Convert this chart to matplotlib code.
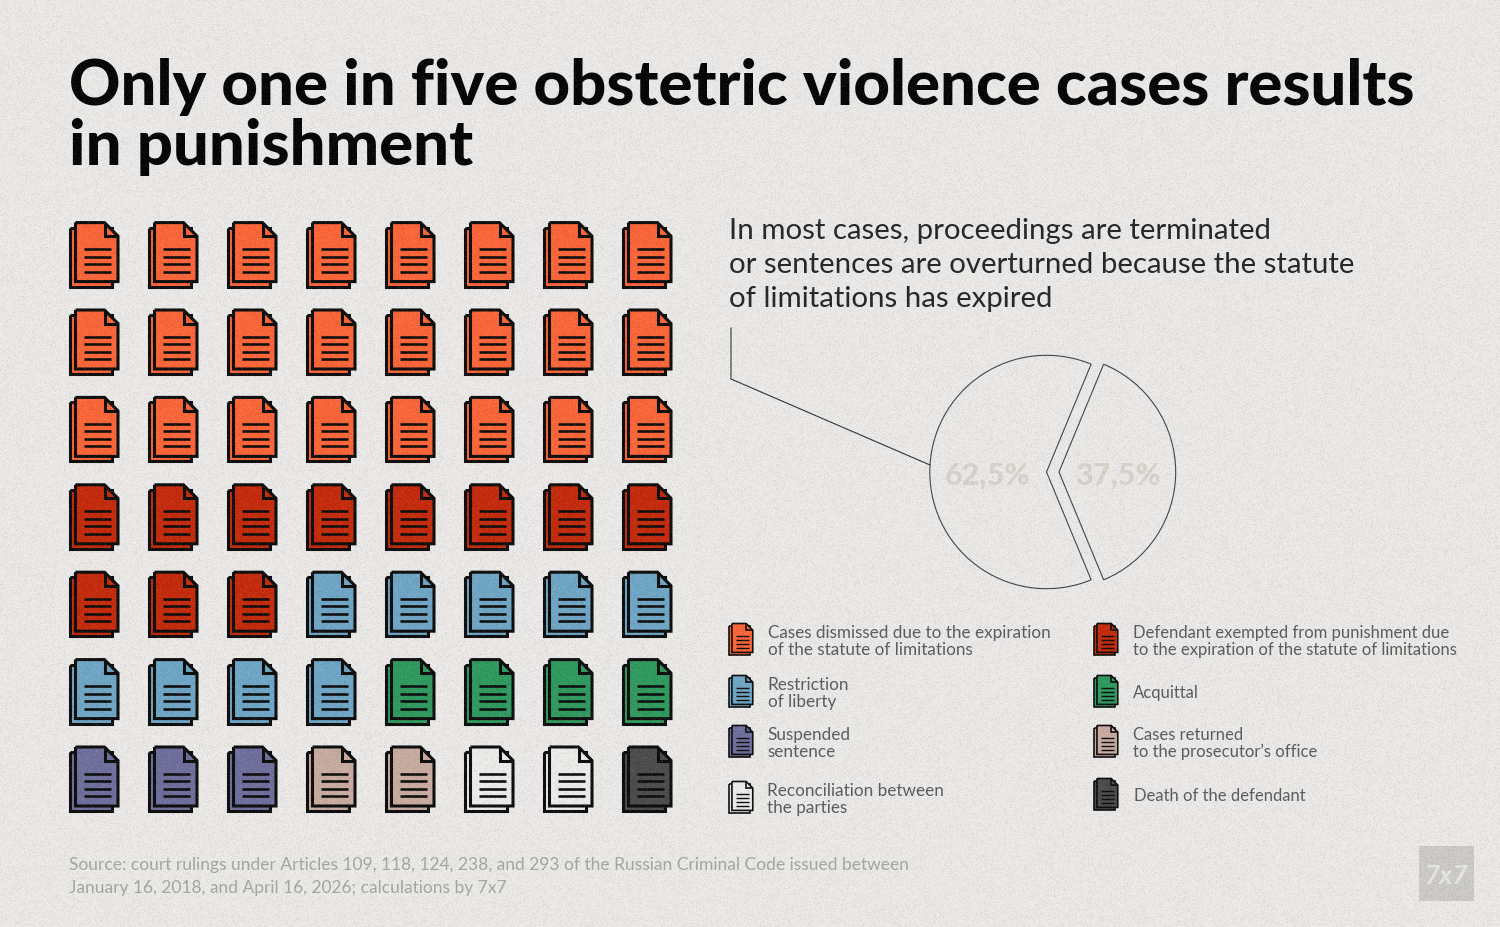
import matplotlib
matplotlib.use('Agg')
import matplotlib.pyplot as plt
from matplotlib.path import Path
from matplotlib.patches import PathPatch, Rectangle
from matplotlib.transforms import Affine2D
import numpy as np

# data
title_lines = ['Only one in five obstetric violence cases results', 'in punishment']
sub_lines = ['In most cases, proceedings are terminated',
             'or sentences are overturned because the statute',
             'of limitations has expired']
source_lines = ['Source: court rulings under Articles 109, 118, 124, 238, and 293 of the Russian Criminal Code issued between',
                'January 16, 2018, and April 16, 2026; calculations by 7x7']
categories = ['Cases dismissed due to the expiration\nof the statute of limitations',
              'Defendant exempted from punishment due\nto the expiration of the statute of limitations',
              'Restriction\nof liberty',
              'Acquittal',
              'Suspended\nsentence',
              'Cases returned\nto the prosecutor\u2019s office',
              'Reconciliation between\nthe parties',
              'Death of the defendant']
counts = [24, 11, 9, 4, 3, 2, 2, 1]
pie_values = [37.5, 62.5]
pie_labels = ['37,5%', '62,5%']

# styles
BG = '#ebeae8'
INK = '#0d0d0d'
colors = ['#fb6538', '#c52a0c', '#6fa6c6', '#2f9a5f', '#6f6f9d', '#c9aca1', '#ececea', '#4c4c4c']
legend_x = [729, 1094]
legend_y = [[624, 676, 726, 782], [624, 676, 726, 779]]
legend_text_x = [[768, 767.5, 767.5, 767], [1133, 1133, 1133, 1134]]
legend_size = [12.3, 11.95]

fig = plt.figure(figsize=(15, 9.28), dpi=100, facecolor=BG)
ax = fig.add_axes([0, 0, 1, 1])
ax.set_xlim(0, 1500)
ax.set_ylim(928, 0)
ax.axis('off')


def sheet():
    front = [(6, 1), (35, 1), (48.5, 14.5), (48.5, 60), (6, 60), (6, 1)]
    back = [(0.5, 6), (42.5, 6), (42.5, 65), (0.5, 65), (0.5, 6)]
    fold = [(35, 1), (35, 14.5), (48.5, 14.5)]
    return np.array(back), np.array(front), np.array(fold)


def draw_icon(x, y, color, s=1.0, lw=2.2):
    back, front, fold = sheet()
    t = Affine2D().scale(s).translate(x, y) + ax.transData
    ax.add_patch(PathPatch(Path(back), fc=color, ec=INK, lw=lw, transform=t, joinstyle='miter'))
    ax.add_patch(PathPatch(Path(front), fc=color, ec=INK, lw=lw, transform=t, joinstyle='miter'))
    ax.add_patch(PathPatch(Path(fold), fc='none', ec=INK, lw=lw, transform=t, joinstyle='miter'))
    for ly in [27.5, 35, 42.5, 50]:
        ax.plot([x + 14.5 * s, x + 41.5 * s], [y + ly * s, y + ly * s], color=INK, lw=lw * 0.85, solid_capstyle='butt')


# waffle of icons
cat_idx = np.repeat(np.arange(len(counts)), counts)
for i, c in enumerate(cat_idx):
    col = i % 8
    row = i // 8
    draw_icon(69.5 + col * 79, 222.6 + row * 87.4, colors[c])

# header
for line, y in zip(title_lines, [104.5, 164.5]):
    ax.text(69, y, line, fontsize=45.7, family='Lato', weight='black', color='#050505', va='baseline')
for line, y in zip(sub_lines, [239, 273, 307]):
    ax.text(729, y, line, fontsize=21.2, family='Lato', color='#262626', va='baseline')

# leader line
ax.plot([731, 731, 930], [329, 380, 466], color='#333333', lw=0.8)

# pie
r = 116.7
pw = r * 2.4
pax = fig.add_axes([(1046.5 - pw / 2) / 1500, 1 - (473 + pw / 2) / 928, pw / 1500, pw / 928])
pax.pie(pie_values, startangle=-67.5, explode=[0.107, 0], radius=1,
        colors=['none', 'none'], wedgeprops={'edgecolor': '#444444', 'linewidth': 0.8})
pax.set_xlim(-1.2, 1.2)
pax.set_ylim(-1.2, 1.2)
pax.set_aspect('equal')
pax.patch.set_alpha(0)
for lab, x in zip(pie_labels, [1118, 988]):
    ax.text(x, 485, lab, fontsize=22, family='Lato', weight='black', color='#d9d3cc', ha='center', va='baseline')

# legend
for i, lab in enumerate(categories):
    side = i % 2
    row = i // 2
    y0 = legend_y[side][row]
    draw_icon(legend_x[side], y0, colors[i], s=0.49, lw=1.2)
    parts = lab.split('\n')
    if len(parts) == 2:
        ys = [y0 + 14, y0 + 31.5]
    else:
        ys = [y0 + 22]
    for p, yy_ in zip(parts, ys):
        ax.text(legend_text_x[side][row], yy_, p, fontsize=legend_size[side], family='Lato', color='#5c5c5c', va='baseline')

# footer
for line, y in zip(source_lines, [870, 893]):
    ax.text(69, y, line, fontsize=12.48, family='Lato', color='#a6a6a4', va='baseline')
ax.add_patch(Rectangle((1419, 847), 55, 55, fc='#cdcbc9', ec='none'))
ax.text(1446.5, 884, '7x7', fontsize=19, family='Lato', weight='black', style='italic', color='#e6e5e3', ha='center', va='baseline')

# paper grain over everything, integer hash of the pixel position
yy, xx = np.mgrid[0:928, 0:1500].astype(np.uint64)
h = (xx * np.uint64(73856093)) ^ (yy * np.uint64(19349663))
h = (h * np.uint64(83492791)) % np.uint64(2**32)
h = (h ^ (h >> np.uint64(13))) * np.uint64(1274126177) % np.uint64(2**32)
n = (h >> np.uint64(16)).astype(float) / 65535.0 - 0.5
grain = np.zeros((928, 1500, 4))
grain[..., :3] = (n > 0)[..., None]
grain[..., 3] = np.abs(n) * 0.13
gax = fig.add_axes([0, 0, 1, 1], zorder=10)
gax.imshow(grain, interpolation='nearest', aspect='auto')
gax.axis('off')

fig.savefig('out.png', dpi=100, facecolor=BG)
